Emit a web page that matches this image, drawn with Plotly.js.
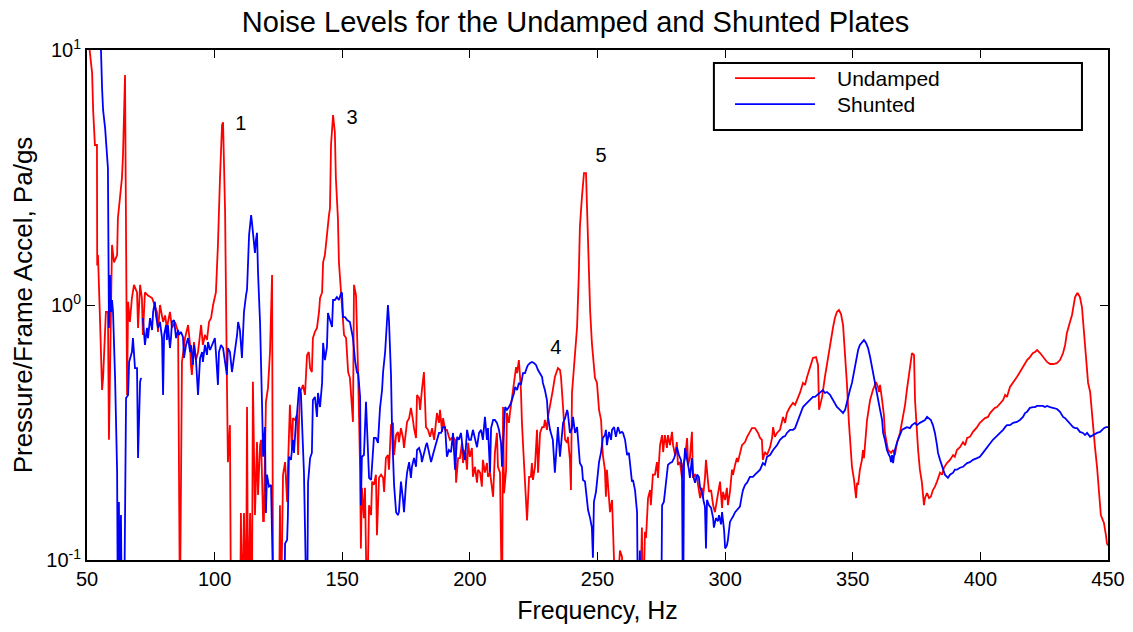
<!DOCTYPE html>
<html><head><meta charset="utf-8">
<script src="https://cdn.plot.ly/plotly-3.0.1.min.js"></script>
<style>html,body{margin:0;padding:0;background:#fff}#chart{width:1133px;height:632px}</style>
</head><body><div id="chart"></div>
<script>
const undampedFreq = [50.0,50.8,52.0,52.4,53.1,53.9,54.0,54.3,55.1,55.9,56.3,57.4,58.2,58.6,59.4,59.8,60.6,61.8,62.1,62.9,63.7,64.1,64.9,65.7,66.1,66.8,67.6,68.4,69.6,70.0,70.8,71.5,71.9,72.7,73.9,75.5,76.6,77.4,77.8,78.6,79.8,80.6,81.3,82.5,83.3,84.5,85.7,86.4,87.2,87.6,88.4,89.6,90.4,90.7,91.1,91.9,92.7,93.5,94.7,95.4,96.2,97.0,97.8,98.6,99.4,100.5,101.3,102.1,102.9,103.3,104.1,104.8,105.2,106.0,106.4,110.0,110.3,110.7,111.5,112.3,112.7,113.1,113.9,114.6,115.0,115.8,116.6,117.0,117.8,118.2,119.0,119.3,120.1,120.9,121.7,122.5,122.9,125.2,125.6,126.0,126.8,127.6,128.4,128.7,129.5,130.3,130.7,131.5,132.3,132.7,133.4,134.2,134.6,135.4,136.2,136.9,137.4,138.1,138.5,139.3,140.1,140.9,141.3,142.1,142.5,143.2,144.0,144.8,145.2,145.6,146.4,147.1,147.5,148.3,148.7,149.5,150.3,150.7,151.5,152.3,153.0,153.5,154.2,154.6,155.4,156.2,157.0,157.3,157.7,158.5,158.9,159.7,160.5,161.3,161.7,162.4,163.2,163.6,164.4,165.2,166.0,166.4,167.1,167.9,168.3,169.1,169.9,170.3,171.1,171.8,172.2,173.0,173.8,174.2,175.0,175.4,176.2,176.9,177.7,178.1,178.9,179.3,180.1,180.5,181.2,182.0,182.8,183.6,184.4,185.2,186.0,186.3,187.1,187.9,188.3,189.1,189.5,190.3,191.0,191.8,192.2,193.4,194.2,194.6,195.4,196.1,196.9,197.3,198.1,198.9,199.3,200.0,200.8,201.2,202.0,202.8,203.2,204.0,204.7,205.1,205.9,206.7,207.1,207.9,208.7,209.1,209.8,210.6,211.0,211.8,212.6,213.0,213.4,214.2,214.5,215.3,215.7,216.5,216.9,217.7,218.1,218.5,219.2,220.0,220.4,221.2,222.0,222.4,223.2,223.9,224.3,224.7,225.5,226.3,226.7,227.5,228.3,229.0,229.4,230.2,230.6,231.4,232.2,232.5,233.3,234.1,234.5,235.3,235.7,236.5,237.3,238.1,238.4,239.2,239.6,240.0,240.8,241.6,242.0,242.7,243.1,243.9,244.7,245.5,245.9,246.7,247.1,247.8,248.6,249.0,249.8,250.2,250.6,251.4,251.8,252.1,252.9,253.3,253.7,254.5,254.9,255.7,256.1,256.5,257.2,258.8,259.6,260.4,266.6,267.4,267.8,268.6,269.0,269.8,270.6,270.9,271.7,272.5,273.3,273.7,274.5,275.3,275.7,276.4,277.2,277.6,278.4,279.2,279.6,280.4,281.1,281.5,282.3,283.1,283.5,284.3,285.1,285.5,286.2,287.0,287.4,288.2,289.0,289.4,290.2,290.9,291.3,292.1,292.5,293.3,293.7,294.5,295.3,296.0,296.8,297.2,298.0,298.8,299.2,300.0,300.7,301.1,301.9,302.7,303.1,303.9,304.6,305.0,305.8,306.6,307.8,308.6,309.7,310.5,311.7,312.9,313.7,314.4,314.8,315.6,316.4,317.6,318.4,318.8,319.5,320.3,321.5,322.7,323.5,324.2,325.4,326.6,327.4,328.2,329.3,330.5,331.3,332.1,333.3,334.4,335.6,336.4,336.8,337.2,338.0,339.1,340.3,341.1,342.3,343.0,343.8,344.6,345.4,346.2,346.6,347.3,347.7,348.5,349.7,350.5,351.3,351.7,352.1,352.8,353.6,354.0,354.4,354.8,355.6,356.8,357.9,359.1,359.9,360.3,360.7,361.5,362.2,362.6,363.8,365.0,365.8,366.5,367.3,368.5,369.7,370.5,371.2,372.4,373.2,374.0,374.4,375.6,376.3,377.1,377.9,378.3,379.1,379.9,380.6,381.4,382.2,383.0,384.2,385.0,385.7,386.9,388.1,389.3,390.0,390.8,392.0,393.2,394.0,394.8,395.9,397.1,397.9,398.7,399.8,401.0,401.8,403.0,403.8,404.9,405.7,406.5,407.7,408.9,409.7,410.4,411.6,412.8,413.6,414.3,415.5,416.7,417.5,418.3,419.4,420.6,421.4,422.2,423.4,424.5,426.1,427.3,428.5,430.0,431.2,432.4,433.2,433.9,434.3,435.1,435.9,436.7,437.1,437.9,438.2,439.0,439.8,440.2,441.0,441.8,442.2,443.0,444.1,444.9,445.7,446.1,446.9,447.2,448.0,448.4,449.2,449.6,450.0];
const undampedLevel = [14,10.5,8.12,5.82,4.24,4.24,1.43,1.57,0.873,0.464,0.518,0.939,0.939,0.296,0.956,1.72,1.47,1.57,2.19,2.63,3.15,3.87,7.97,0.444,1.03,0.858,1.065,1.20,1.12,0.813,1.20,1.065,0.763,1.12,1.09,1.065,1.0,0.939,0.784,1.0,0.858,0.91,0.813,0.939,0.813,0.858,0.784,0.06,0.598,0.654,0.742,0.835,0.697,0.582,0.532,0.716,0.608,0.654,0.835,0.697,0.763,0.729,0.858,0.889,1.0,1.12,1.72,3.15,5.08,5.21,2.32,0.518,0.242,0.338,0.06,0.06,0.153,0.06,0.153,0.06,0.398,0.06,0.153,0.06,0.50,0.150,0.290,0.180,0.282,0.296,0.142,0.142,0.417,0.472,0.654,1.31,0.06,0.06,0.164,0.06,0.216,0.242,0.169,0.226,0.406,0.270,0.360,0.354,0.370,0.258,0.456,0.472,0.486,0.444,0.637,0.654,0.566,0.546,0.742,0.784,0.813,0.939,1.065,1.12,1.47,1.57,1.93,2.25,2.40,4.24,5.56,4.76,3.15,2.19,1.47,1.09,0.858,0.763,0.742,0.546,0.518,0.417,0.348,1.20,1.09,0.546,0.226,0.111,0.192,0.146,0.192,0.06,0.164,0.150,0.203,0.197,0.216,0.125,0.210,0.216,0.210,0.185,0.251,0.258,0.226,0.338,0.345,0.258,0.309,0.318,0.290,0.329,0.301,0.275,0.329,0.348,0.360,0.395,0.354,0.329,0.301,0.444,0.432,0.388,0.464,0.546,0.332,0.324,0.304,0.329,0.296,0.324,0.377,0.345,0.388,0.318,0.360,0.324,0.324,0.304,0.296,0.304,0.296,0.201,0.251,0.251,0.288,0.240,0.270,0.226,0.288,0.254,0.275,0.212,0.232,0.201,0.226,0.220,0.194,0.247,0.220,0.240,0.212,0.220,0.188,0.177,0.263,0.315,0.232,0.220,0.06,0.398,0.183,0.226,0.377,0.345,0.377,0.436,0.477,0.556,0.571,0.541,0.608,0.464,0.345,0.240,0.153,0.143,0.212,0.212,0.240,0.206,0.232,0.324,0.220,0.315,0.332,0.332,0.354,0.324,0.364,0.398,0.436,0.464,0.522,0.556,0.566,0.556,0.522,0.398,0.296,0.288,0.304,0.247,0.188,0.452,0.592,0.729,0.820,1.34,2.02,2.65,3.29,3.29,2.30,1.34,0.956,0.710,0.582,0.518,0.495,0.432,0.388,0.354,0.296,0.258,0.226,0.177,0.226,0.164,0.154,0.172,0.137,0.107,0.06,0.109,0.103,0.06,0.06,0.134,0.06,0.129,0.122,0.175,0.188,0.164,0.216,0.216,0.242,0.210,0.282,0.309,0.265,0.309,0.275,0.309,0.282,0.318,0.282,0.258,0.290,0.236,0.242,0.210,0.236,0.251,0.301,0.236,0.251,0.318,0.210,0.216,0.210,0.197,0.175,0.192,0.175,0.210,0.247,0.203,0.185,0.188,0.164,0.154,0.175,0.180,0.203,0.160,0.185,0.172,0.192,0.164,0.185,0.226,0.216,0.236,0.251,0.242,0.265,0.282,0.290,0.304,0.318,0.329,0.329,0.315,0.301,0.296,0.247,0.265,0.258,0.277,0.301,0.332,0.304,0.315,0.324,0.364,0.345,0.377,0.398,0.413,0.406,0.424,0.452,0.495,0.486,0.522,0.571,0.620,0.625,0.582,0.388,0.406,0.436,0.522,0.625,0.684,0.820,0.889,0.939,0.956,0.922,0.835,0.729,0.608,0.495,0.345,0.232,0.206,0.175,0.201,0.197,0.226,0.247,0.270,0.251,0.282,0.354,0.424,0.464,0.499,0.477,0.456,0.486,0.424,0.370,0.315,0.270,0.263,0.270,0.258,0.288,0.315,0.364,0.406,0.464,0.571,0.648,0.637,0.424,0.270,0.226,0.201,0.164,0.175,0.183,0.175,0.177,0.188,0.194,0.203,0.220,0.216,0.230,0.240,0.247,0.258,0.254,0.270,0.277,0.290,0.282,0.301,0.304,0.318,0.324,0.332,0.345,0.354,0.360,0.364,0.377,0.388,0.395,0.398,0.413,0.424,0.444,0.436,0.477,0.495,0.508,0.522,0.546,0.571,0.592,0.608,0.625,0.648,0.654,0.666,0.648,0.625,0.598,0.587,0.587,0.592,0.608,0.648,0.697,0.777,0.798,0.858,0.914,1.0,1.075,1.11,1.11,1.075,0.982,0.873,0.716,0.556,0.495,0.456,0.332,0.277,0.232,0.201,0.157,0.150,0.143,0.140,0.125,0.116,0.114];

const shuntedFreq = [54.7,55.5,55.9,56.3,57.1,57.8,58.2,58.6,59.0,59.4,59.8,60.2,61.0,61.8,62.0,62.1,62.5,62.9,63.3,63.7,64.5,64.9,65.3,66.1,66.5,67.6,68.0,68.8,69.6,70.0,70.8,71.2,71.5,71.9,72.7,73.5,73.9,74.7,75.5,75.9,76.6,77.0,77.8,78.6,79.4,79.8,80.2,81.0,81.3,81.7,82.5,82.9,83.3,84.1,84.9,85.7,86.0,86.8,87.6,88.0,88.8,89.6,90.4,90.7,91.5,91.9,92.7,93.5,94.3,95.1,95.4,96.2,97.0,97.4,98.2,99.0,100.1,100.5,101.3,101.7,102.5,103.3,104.1,104.8,105.2,106.0,106.8,107.6,108.4,108.8,109.2,109.9,110.7,111.1,111.5,112.3,112.7,113.5,114.3,114.6,115.0,115.8,116.2,116.6,117.0,117.8,118.6,119.0,119.7,120.1,120.5,121.3,122.1,122.5,123.3,127.2,127.6,128.4,128.7,129.1,129.9,130.7,131.1,131.9,132.3,133.1,133.8,134.2,135.0,135.4,135.8,136.2,136.6,137.4,138.1,138.5,139.3,140.1,140.5,141.3,142.1,142.5,143.2,144.0,144.4,145.2,146.0,146.4,147.1,147.9,148.7,149.5,149.9,150.3,151.1,151.9,152.7,153.0,153.8,154.2,155.0,155.8,156.2,157.0,157.3,157.7,158.5,159.3,159.7,160.5,161.3,161.7,162.4,163.2,164.0,164.4,164.8,165.6,166.0,166.8,167.5,167.9,168.3,168.7,169.1,169.5,170.3,171.1,171.8,172.2,173.0,173.8,174.2,175.0,175.4,176.2,176.9,177.3,178.1,178.9,179.3,180.1,180.9,181.2,182.0,182.8,183.2,184.0,184.8,185.5,186.3,187.1,187.9,188.7,189.5,190.3,191.0,191.8,192.6,193.4,194.2,195.0,195.7,196.5,197.3,198.1,198.9,199.7,200.4,201.2,202.0,202.8,203.6,204.4,205.1,205.9,206.7,207.1,207.9,208.3,209.1,209.8,210.6,211.4,212.2,212.6,213.4,213.8,214.5,215.3,216.1,216.5,217.3,217.7,218.5,219.2,220.0,220.8,221.6,222.4,222.8,223.6,224.3,225.1,225.9,226.7,227.5,228.3,228.6,229.4,230.2,230.6,231.4,232.2,232.5,233.3,234.1,234.5,235.3,236.1,236.5,237.3,238.1,238.4,239.2,240.0,240.4,241.2,242.0,242.4,243.1,243.9,244.3,245.1,245.9,246.3,247.1,247.8,248.2,248.6,249.4,249.8,250.6,251.4,251.8,252.1,252.9,253.3,253.7,254.5,255.3,255.7,256.5,257.2,258.0,258.8,259.6,260.0,260.8,261.6,262.3,263.5,263.9,264.7,265.5,265.9,266.6,267.0,274.9,275.3,276.0,276.8,277.6,278.4,279.2,280.0,280.4,281.1,281.9,282.7,283.1,283.5,283.9,284.3,285.1,285.8,286.2,287.0,287.4,288.2,289.0,289.7,290.2,290.9,291.7,292.1,292.5,292.9,293.7,294.5,295.3,295.6,296.4,297.2,297.6,298.4,298.8,299.6,300.0,300.7,301.1,301.9,302.7,303.1,303.9,304.6,305.8,306.6,307.0,307.8,308.6,309.7,310.9,311.7,312.5,313.7,314.8,315.6,316.4,317.6,318.8,319.5,320.3,321.5,322.7,323.5,324.2,325.4,326.6,327.4,328.2,329.3,330.5,331.3,332.1,333.3,334.4,335.2,336.0,337.2,338.3,339.1,339.9,341.1,342.3,343.0,343.8,345.0,346.2,347.0,348.1,348.9,349.7,350.9,352.1,352.8,353.6,354.4,355.2,356.0,356.8,357.9,358.7,359.5,360.7,361.5,361.9,362.6,363.4,364.2,364.6,365.0,365.4,365.8,366.5,367.7,368.5,369.3,370.5,371.2,372.4,373.2,374.4,375.2,376.3,377.1,378.3,379.1,379.9,380.6,381.4,382.2,383.0,383.4,384.2,385.0,385.7,386.1,386.9,387.3,388.1,389.3,390.0,390.8,392.0,393.2,394.0,394.8,395.9,397.1,398.7,399.8,401.0,401.8,402.6,403.8,404.9,405.7,406.5,407.7,408.9,409.7,410.4,411.6,412.8,414.3,415.5,416.7,417.5,418.3,419.4,420.6,421.4,422.2,423.4,424.5,425.3,426.1,427.3,428.5,430.0,431.2,432.4,433.2,433.9,435.1,436.3,437.1,437.9,439.0,440.2,441.0,441.8,443.0,444.1,444.9,445.7,446.9,447.6,448.4,449.2,450.0];
const shuntedLevel = [14,9.82,7.09,5.82,4.94,3.87,3.44,0.813,1.31,0.939,1.046,0.939,0.518,0.222,0.146,0.05,0.169,0.05,0.150,0.05,0.05,0.251,0.432,0.444,0.598,0.654,0.742,0.566,0.566,0.251,0.499,0.518,null,0.889,0.697,0.813,0.742,0.889,0.798,0.939,1.03,0.914,0.813,0.858,0.742,0.444,0.763,0.835,0.729,0.835,0.678,0.742,0.858,0.873,0.742,0.798,0.763,0.784,0.749,0.620,0.697,0.742,0.654,0.697,0.582,0.697,0.608,0.444,0.620,0.654,0.598,0.697,0.637,0.716,0.666,0.697,0.742,0.654,0.486,0.654,0.697,0.678,0.582,0.532,0.678,0.654,0.546,0.620,0.697,0.763,0.858,0.798,0.620,0.858,0.939,1.09,1.15,1.88,2.25,2.12,1.92,1.60,1.80,1.92,1.34,0.850,0.398,0.254,0.332,0.153,0.216,0.194,0.197,0.143,0.05,0.05,0.116,0.120,0.148,0.254,0.247,0.296,0.263,0.354,0.377,0.477,0.452,0.354,0.220,0.135,0.05,0.05,0.201,0.251,0.263,0.424,0.436,0.364,0.452,0.398,0.495,0.710,0.608,0.684,0.930,0.873,0.820,1.046,1.046,1.075,1.046,1.11,1.12,0.897,0.897,0.873,0.858,0.858,0.777,0.742,0.608,0.541,0.546,0.436,0.164,0.254,0.258,0.417,0.332,0.210,0.206,0.242,0.301,0.301,0.288,0.338,0.395,0.464,0.546,0.654,0.858,1.0,0.873,0.697,0.532,0.329,0.197,0.154,0.150,0.154,0.203,0.172,0.154,0.201,0.220,0.242,0.210,0.232,0.251,0.232,0.270,0.275,0.258,0.242,0.263,0.282,0.288,0.265,0.242,0.258,0.277,0.296,0.315,0.315,0.332,0.332,0.254,0.270,0.265,0.315,0.226,0.304,0.296,0.315,0.270,0.247,0.324,0.296,0.296,0.324,0.296,0.277,0.315,0.324,0.296,0.364,0.296,0.329,0.220,0.329,0.354,0.354,0.345,0.324,0.288,0.232,0.332,0.398,0.388,0.398,0.413,0.424,0.452,0.477,0.464,0.495,0.486,0.541,0.541,0.571,0.582,0.592,0.598,0.592,0.582,0.556,0.541,0.522,0.495,0.464,0.424,0.364,0.324,0.304,0.296,0.220,0.296,0.332,0.254,0.315,0.345,0.360,0.388,0.377,0.315,0.329,0.364,0.315,0.332,0.296,0.240,0.232,0.206,0.203,0.177,0.157,0.146,0.134,0.102,0.169,0.185,0.201,0.242,0.265,0.282,0.301,0.309,0.324,0.282,0.318,0.296,0.324,0.332,0.304,0.332,0.315,0.318,0.315,0.296,0.258,0.263,0.203,0.206,0.188,0.154,0.05,0.109,0.05,0.05,0.164,0.169,0.197,0.236,0.240,0.242,0.251,0.258,0.277,0.258,0.247,0.226,0.05,0.236,0.275,0.251,0.226,0.210,0.251,0.216,0.201,0.216,0.212,0.192,0.185,0.168,0.162,0.111,0.172,0.164,0.160,0.146,0.134,0.146,0.142,0.150,0.138,0.154,0.131,0.111,0.114,0.120,0.141,0.146,0.148,0.154,0.157,0.162,0.180,0.188,0.197,0.201,0.212,0.212,0.216,0.220,0.226,0.240,0.236,0.254,0.258,0.270,0.275,0.282,0.296,0.304,0.306,0.315,0.324,0.324,0.329,0.345,0.364,0.398,0.406,0.413,0.424,0.436,0.436,0.444,0.452,0.464,0.452,0.456,0.444,0.424,0.413,0.398,0.388,0.377,0.388,0.436,0.464,0.495,0.571,0.666,0.697,0.716,0.729,0.710,0.678,0.625,0.541,0.495,0.452,0.388,0.354,0.315,0.296,0.270,0.258,0.254,0.242,0.258,0.240,0.270,0.296,0.309,0.324,0.329,0.332,0.329,0.338,0.345,0.338,0.345,0.348,0.354,0.364,0.360,0.354,0.338,0.315,0.282,0.263,0.247,0.232,0.222,0.216,0.212,0.210,0.216,0.220,0.226,0.226,0.230,0.232,0.236,0.240,0.242,0.247,0.251,0.254,0.263,0.270,0.277,0.288,0.296,0.301,0.306,0.315,0.324,0.332,0.338,0.338,0.345,0.348,0.354,0.364,0.377,0.381,0.395,0.398,0.398,0.402,0.402,0.402,0.398,0.402,0.398,0.395,0.391,0.381,0.364,0.360,0.354,0.345,0.332,0.329,0.329,0.318,0.315,0.309,0.315,0.304,0.309,0.312,0.315,0.318,0.324,0.329,0.332,0.332];

const seriesNames = ['Undamped', 'Shunted'];
const seriesColors = ['#ff0000', '#0000ff'];
const xTickVals = [50, 100, 150, 200, 250, 300, 350, 400, 450];
const yTickVals = [0.1, 1, 10];
const yTickText = ['10<sup>-1</sup>', '10<sup>0</sup>', '10<sup>1</sup>'];
const peakLabels = ['1', '3', '4', '5'];
const peakFreq = [110.3, 153.8, 233.7, 251.4];
const peakLevel = [5.1, 5.35, 0.67, 3.8];

const FONT = 'Liberation Sans, Arial, sans-serif';

const traces = [
  {x: undampedFreq, y: undampedLevel, name: seriesNames[0], type: 'scatter', mode: 'lines',
   line: {color: seriesColors[0], width: 1.8}, connectgaps: false, hoverinfo: 'skip'},
  {x: shuntedFreq, y: shuntedLevel, name: seriesNames[1], type: 'scatter', mode: 'lines',
   line: {color: seriesColors[1], width: 1.8}, connectgaps: false, hoverinfo: 'skip'},
  {x: peakFreq, y: peakLevel, text: peakLabels, type: 'scatter', mode: 'text',
   textposition: 'middle center', textfont: {family: FONT, size: 20, color: '#000'},
   cliponaxis: false, hoverinfo: 'skip', showlegend: false}
];

// legend drawn as a MATLAB-style box in paper coordinates
const legX0 = 0.614, legX1 = 0.9745, legY0 = 0.843, legY1 = 0.9745;
const legRows = [0.945, 0.894];
const shapes = [
  {type: 'rect', xref: 'paper', yref: 'paper', x0: legX0, x1: legX1, y0: legY0, y1: legY1,
   line: {color: '#000', width: 2}, fillcolor: '#fff', layer: 'above'}
];
const annotations = [];
seriesNames.forEach((nm, i) => {
  shapes.push({type: 'line', xref: 'paper', yref: 'paper', x0: 0.6347, x1: 0.713,
    y0: legRows[i], y1: legRows[i], line: {color: seriesColors[i], width: 1.8}, layer: 'above'});
  annotations.push({xref: 'paper', yref: 'paper', x: 0.7326, y: legRows[i], text: nm,
    showarrow: false, xanchor: 'left', yanchor: 'middle', font: {family: FONT, size: 21, color: '#000'}});
});

const layout = {
  width: 1133, height: 632,
  margin: {l: 87, r: 25, t: 50, b: 72},
  paper_bgcolor: '#fff', plot_bgcolor: '#fff',
  showlegend: false,
  font: {family: FONT, color: '#000'},
  title: {text: 'Noise Levels for the Undamped and Shunted Plates', x: 0.508, xanchor: 'center',
          y: 0.966, yanchor: 'middle', font: {family: FONT, size: 29, color: '#000'}},
  xaxis: {
    range: [50, 450], tickvals: xTickVals, ticks: 'inside', ticklen: 8, tickwidth: 1, tickcolor: '#000',
    showline: true, linecolor: '#000', linewidth: 2, mirror: 'ticks', showgrid: false, zeroline: false,
    tickfont: {family: FONT, size: 20, color: '#000'},
    title: {text: 'Frequency, Hz', font: {family: FONT, size: 25, color: '#000'}, standoff: 12}
  },
  yaxis: {
    type: 'log', range: [-1, 1], tickvals: yTickVals, ticktext: yTickText,
    ticks: 'inside', ticklen: 8, tickwidth: 1, tickcolor: '#000',
    showline: true, linecolor: '#000', linewidth: 2, mirror: 'ticks', showgrid: false, zeroline: false,
    tickfont: {family: FONT, size: 20, color: '#000'},
    title: {text: 'Pressure/Frame Accel, Pa/gs', font: {family: FONT, size: 26, color: '#000'}, standoff: 6}
  },
  shapes: shapes,
  annotations: annotations
};

Plotly.newPlot('chart', traces, layout, {displayModeBar: false, staticPlot: true});
</script>
</body></html>
